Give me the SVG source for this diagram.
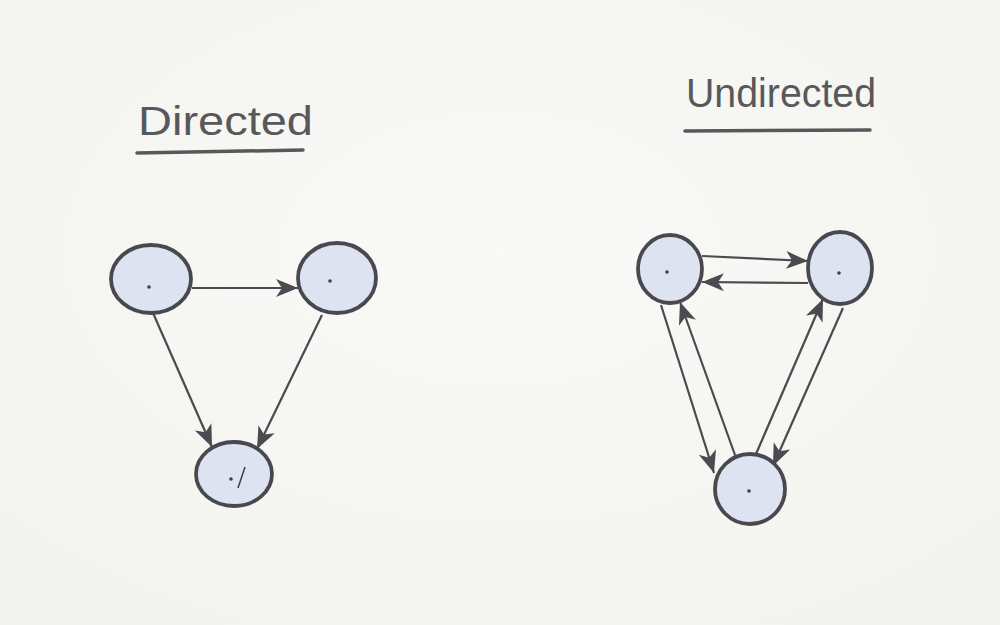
<svg xmlns="http://www.w3.org/2000/svg" width="1000" height="625" viewBox="0 0 1000 625">
<defs>
<marker id="ah" markerWidth="24" markerHeight="20" refX="22" refY="10" orient="auto" markerUnits="userSpaceOnUse">
<path d="M0,1 L22,10 L0,19 L6,10 Z" fill="#4a4a50"/>
</marker>
<radialGradient id="bg" cx="50%" cy="40%" r="80%">
<stop offset="0" stop-color="#f9f9f7"/>
<stop offset="1" stop-color="#f2f2ee"/>
</radialGradient>
</defs>
<style>
.node{fill:#dde3f1;stroke:#48484e;stroke-width:3.8}
.dot{fill:#3a3f55}
.edge{stroke:#4a4a50;stroke-width:2.2;fill:none;marker-end:url(#ah)}
.title{font-family:"Liberation Sans",Arial,sans-serif;font-size:40px;fill:#58585c}
.ul{stroke:#58585c;stroke-width:3.5;stroke-linecap:round}
</style>
<rect width="1000" height="625" fill="url(#bg)"/>
<g id="title-directed">
<text class="title" x="138" y="135" textLength="175" lengthAdjust="spacingAndGlyphs">Directed</text>
<line class="ul" x1="137" y1="153" x2="303" y2="150"/>
</g>
<g id="title-undirected">
<text class="title" x="686" y="107" textLength="190" lengthAdjust="spacingAndGlyphs">Undirected</text>
<line class="ul" x1="685" y1="131" x2="870" y2="130"/>
</g>
<g id="connectors">
<line class="edge" x1="192" y1="288" x2="298" y2="288"/>
<line class="edge" x1="153" y1="313" x2="212" y2="447"/>
<line class="edge" x1="322" y1="315" x2="257" y2="449"/>
<line class="edge" x1="702" y1="256" x2="808" y2="261"/>
<line class="edge" x1="808" y1="283" x2="702" y2="282"/>
<line class="edge" x1="661" y1="305" x2="714" y2="473"/>
<line class="edge" x1="735" y1="455" x2="680" y2="302"/>
<line class="edge" x1="843" y1="308" x2="773" y2="466"/>
<line class="edge" x1="756" y1="454" x2="823" y2="299"/>
</g>
<g id="node-a">
<ellipse class="node" cx="151" cy="279" rx="40" ry="34"/>
<circle class="dot" cx="149" cy="287" r="1.8"/>
</g>
<g id="node-b">
<ellipse class="node" cx="337" cy="278" rx="39" ry="35"/>
<circle class="dot" cx="330" cy="281" r="1.8"/>
</g>
<g id="node-c">
<ellipse class="node" cx="234" cy="474" rx="38" ry="32"/>
<circle class="dot" cx="231" cy="479" r="1.8"/>
<line x1="245" y1="467" x2="238" y2="488" stroke="#3a3f55" stroke-width="1.5"/>
</g>
<g id="node-d">
<ellipse class="node" cx="670" cy="269" rx="32" ry="34"/>
<circle class="dot" cx="667" cy="272" r="1.8"/>
</g>
<g id="node-e">
<ellipse class="node" cx="840" cy="268" rx="32" ry="36"/>
<circle class="dot" cx="839" cy="273" r="1.8"/>
</g>
<g id="node-f">
<ellipse class="node" cx="750" cy="489" rx="35" ry="35"/>
<circle class="dot" cx="749" cy="491" r="1.8"/>
</g>
</svg>
